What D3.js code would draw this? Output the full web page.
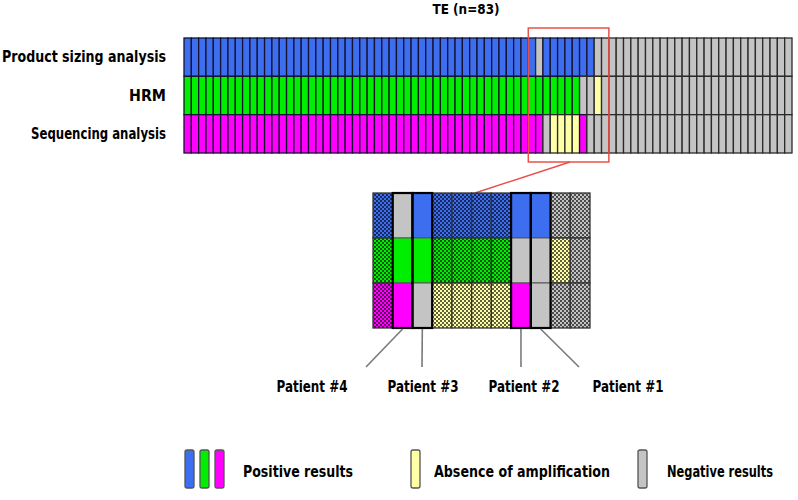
<!DOCTYPE html>
<html><head><meta charset="utf-8">
<script src="https://cdn.jsdelivr.net/npm/d3@7"></script>
<style>
body{margin:0;background:#fff}
text{font-family:"DejaVu Sans Condensed","DejaVu Sans",sans-serif;font-weight:bold;font-stretch:condensed;fill:#000}
</style>
</head><body>
<svg id="chart" width="798" height="500"></svg>
<script>
// ---------------- DATA ----------------
const title = "TE (n=83)";
const methods = ["Product sizing analysis", "HRM", "Sequencing analysis"];
// P = positive, A = absence of amplification, N = negative (one letter per sample, 83 samples)
const productSizing = "PPPPPPPPPP PPPPPPPPPP PPPPPPPPPP PPPPPPPPPP PPPPPPPPNP PPPPPPNNNN NNNNNNNNNN NNNNNNNNNN NNN";
const hrm           = "PPPPPPPPPP PPPPPPPPPP PPPPPPPPPP PPPPPPPPPP PPPPPPPPPP PPPPNNANNN NNNNNNNNNN NNNNNNNNNN NNN";
const sequencing    = "PPPPPPPPPP PPPPPPPPPP PPPPPPPPPP PPPPPPPPPP PPPPPPPPPN AAAAPNNNNN NNNNNNNNNN NNNNNNNNNN NNN";
const statusKeys = ["P", "A", "N"];
const statusLabels = ["Positive results", "Absence of amplification", "Negative results"];
const zoomFirst = 47, zoomLast = 57;              // sample indices shown in the enlarged view
const patientColumns = [48, 49, 54, 55];
const patientLabels = ["Patient #4", "Patient #3", "Patient #2", "Patient #1"];

// ---------------- BUILD ----------------
const rows = [productSizing, hrm, sequencing].map(s => s.replace(/\s/g, "").split(""));
const nSamples = rows[0].length;
const cells = [];
rows.forEach((r, i) => r.forEach((st, j) => cells.push({method: methods[i], idx: j, status: st})));

const methodColor = d3.scaleOrdinal(methods, ["#3d6ef0", "#00ee00", "#ff00ff"]);
const otherColor = {A: "#ffffa6", N: "#c4c4c4"};
const fillOf = d => d.status === "P" ? methodColor(d.method) : otherColor[d.status];

const svg = d3.select("#chart");
svg.append("rect").attr("width", 798).attr("height", 500).attr("fill", "#fff");

// checker patterns for the enlarged view
const defs = svg.append("defs");
const patColors = [...methodColor.range(), otherColor.A, otherColor.N];
patColors.forEach((c, i) => {
  const p = defs.append("pattern").attr("id", "chk" + i).attr("patternUnits", "userSpaceOnUse")
    .attr("width", 4).attr("height", 4);
  p.append("rect").attr("width", 4).attr("height", 4).attr("fill", c);
  p.append("rect").attr("width", 2).attr("height", 2).attr("fill", "#000").attr("opacity", 0.62);
  p.append("rect").attr("x", 2).attr("y", 2).attr("width", 2).attr("height", 2).attr("fill", "#000").attr("opacity", 0.62);
});
const patOf = d => "url(#chk" + patColors.indexOf(fillOf(d)) + ")";

function fit(sel, w) { sel.attr("textLength", w).attr("lengthAdjust", "spacingAndGlyphs"); }

// ---------------- MAIN GRID ----------------
const x = d3.scaleBand().domain(d3.range(nSamples)).range([184, 792]);
const y = d3.scaleBand().domain(methods).range([38, 153]);

svg.append("g").selectAll("rect").data(cells).join("rect")
  .attr("x", d => x(d.idx)).attr("y", d => y(d.method))
  .attr("width", x.bandwidth()).attr("height", y.bandwidth())
  .attr("fill", fillOf)
  .attr("stroke", d => d.status === "P" ? "#141430" : "#2a2a2a")
  .attr("stroke-width", 1.3);

const labelW = [164, 37, 135];
svg.append("g").selectAll("text").data(methods).join("text")
  .attr("x", 166).attr("y", d => y(d) + y.bandwidth() / 2 + 5)
  .attr("text-anchor", "end").attr("font-size", 15.5)
  .text(d => d).each(function (d, i) { fit(d3.select(this), labelW[i]); });

svg.append("text").attr("x", 466).attr("y", 14).attr("text-anchor", "middle")
  .attr("font-size", 13.5).text(title).call(fit, 67);

// red selection box
const bx0 = x(zoomFirst), bx1 = x(zoomLast) + x.bandwidth();
svg.append("rect").attr("x", bx0).attr("y", 28).attr("width", bx1 - bx0).attr("height", 134)
  .attr("fill", "none").attr("stroke", "#e8504a").attr("stroke-width", 1.5);
svg.append("line").attr("x1", 570).attr("y1", 162).attr("x2", 475).attr("y2", 193)
  .attr("stroke", "#e8504a").attr("stroke-width", 1.5);

// ---------------- ENLARGED VIEW ----------------
const xi = d3.scaleBand().domain(d3.range(zoomFirst, zoomLast + 1)).range([373, 590]);
const yi = d3.scaleBand().domain(methods).range([193, 328]);
const zCells = cells.filter(d => d.idx >= zoomFirst && d.idx <= zoomLast);
const isPat = d => patientColumns.includes(d.idx);

const gz = svg.append("g");
gz.selectAll("rect.reg").data(zCells.filter(d => !isPat(d))).join("rect").attr("class", "reg")
  .attr("x", d => xi(d.idx)).attr("y", d => yi(d.method))
  .attr("width", xi.bandwidth()).attr("height", yi.bandwidth())
  .attr("fill", patOf).attr("stroke", "#333").attr("stroke-width", 1.3);
gz.selectAll("rect.pat").data(zCells.filter(isPat)).join("rect").attr("class", "pat")
  .attr("x", d => xi(d.idx)).attr("y", d => yi(d.method))
  .attr("width", xi.bandwidth()).attr("height", yi.bandwidth())
  .attr("fill", fillOf).attr("stroke", "#555").attr("stroke-width", 1);
// thick outline around patient columns
gz.selectAll("rect.out").data(patientColumns).join("rect").attr("class", "out")
  .attr("x", d => xi(d)).attr("y", 193).attr("width", xi.bandwidth()).attr("height", 135)
  .attr("fill", "none").attr("stroke", "#000").attr("stroke-width", 2.2);

// patient callouts
const lineEndX = [366, 422, 521, 579];
const labelCX = [312, 423, 524, 628];
patientColumns.forEach((c, i) => {
  svg.append("line").attr("x1", xi(c) + xi.bandwidth() / 2).attr("y1", 329)
    .attr("x2", lineEndX[i]).attr("y2", 367).attr("stroke", "#7a7a7a").attr("stroke-width", 1.6);
  svg.append("text").attr("x", labelCX[i]).attr("y", 392).attr("text-anchor", "middle")
    .attr("font-size", 15).text(patientLabels[i]).call(fit, 71);
});

// ---------------- LEGEND ----------------
const lg = svg.append("g");
const swatch = (xx, c) => lg.append("rect").attr("x", xx).attr("y", 450).attr("width", 9).attr("height", 38)
  .attr("rx", 2).attr("fill", c).attr("stroke", "#555").attr("stroke-width", 1.3);
methodColor.range().forEach((c, i) => swatch(185 + i * 15, c));
swatch(411, otherColor.A);
swatch(638, otherColor.N);
const legTextX = [243, 434, 667], legTextW = [110, 176, 106];
statusLabels.forEach((t, i) => {
  lg.append("text").attr("x", legTextX[i]).attr("y", 477).attr("font-size", 15).text(t).call(fit, legTextW[i]);
});
</script>
</body></html>
